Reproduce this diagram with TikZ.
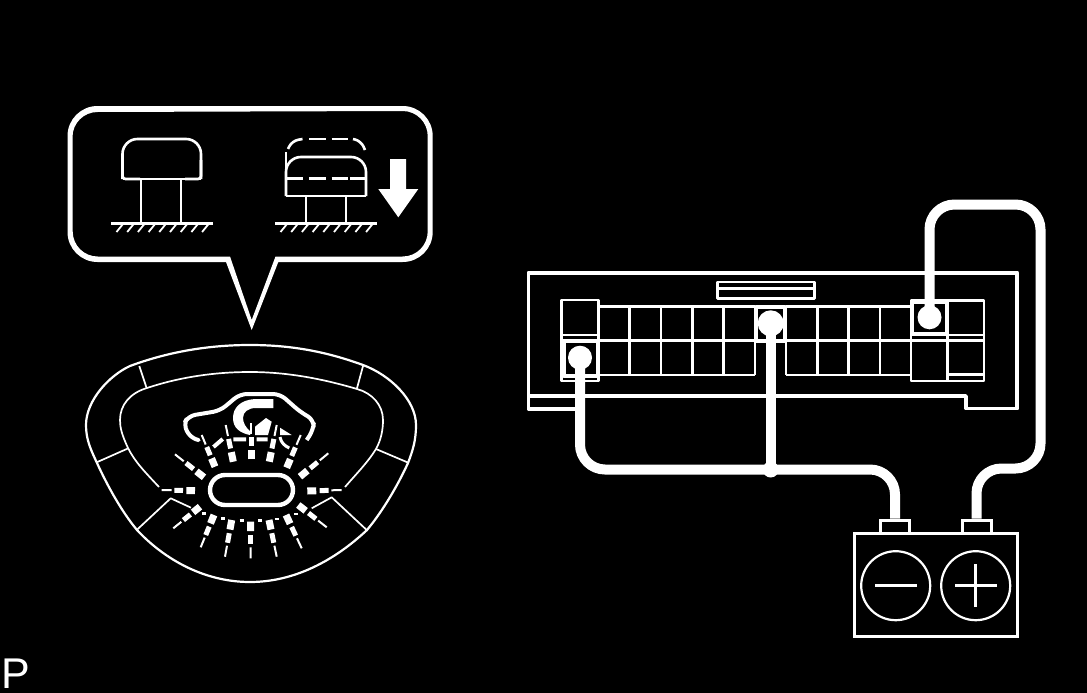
\documentclass[tikz,border=0pt]{standalone}
\usepackage{fontspec}
\setmainfont{Liberation Sans}
\usetikzlibrary{calc}
\tikzset{
  trace/.style={draw=white,line width=#1,line join=round},
  trace/.default=2.6pt,
  wire/.style={draw=white,line width=10pt,rounded corners=25pt},
  pin/.style={circle,fill=white,inner sep=0pt,minimum size=#1},
  pin/.default=24pt,
  lug/.style={draw=white,line width=3pt,inner sep=0pt,minimum width=29pt,minimum height=13pt},
  meter/.style={circle,draw=white,line width=2.2pt,inner sep=0pt,minimum size=69pt},
  case/.style={draw=white,line width=3.4pt,inner sep=0pt,minimum width=163pt,minimum height=103pt},
  hatch/.style={draw=white,line width=1.8pt},
  pagelabel/.style={text=white,inner sep=0pt,font=\fontsize{43}{43}\selectfont},
}
\begin{document}
\begin{tikzpicture}[x=1pt,y=-1pt]
  \useasboundingbox (0,0) rectangle (1087,693);
  \fill[black] (0,0) rectangle (1087,693);
  % balloon
  \fill[white,even odd rule]
    (226,262) -- (251.7,330) -- (278.3,262) -- (402.7,262) arc (90:0:30pt and -30pt) -- (432.7,136) arc (0:-90:30pt and -30pt)
    -- (97.5,106) arc (-90:-180:30pt and -30pt) -- (67.5,232) arc (180:90:30pt and -30pt) -- cycle
    (230,256.5) -- (251.7,320) -- (275.5,256.5) -- (402.7,256.5) arc (90:0:25pt and -25pt) -- (427.7,136) arc (0:-90:25pt and -25pt)
    -- (97.5,112) arc (-90:-180:25pt and -25pt) -- (72.7,231.5) arc (180:90:25pt and -25pt) -- cycle;
  % button up
  \draw[trace,rounded corners=15pt] (122.5,179) -- (122.5,139) -- (201,139) -- (201,179);
  \draw[trace,rounded corners=3pt] (140,179) -- (122.5,179) -- (122.5,160) (185,179) -- (201,179) -- (201,160);
  \draw[trace] (122.5,179) -- (201,179) (141,180) -- (141,223) (181,180) -- (181,223);
  % button pressed
  \draw[trace,rounded corners=15pt] (286,196) -- (286,157) -- (366,157) -- (366,196);
  \draw[trace] (286,196) -- (366,196) (306,197) -- (306,223) (346,197) -- (346,223);
  \draw[trace,rounded corners=6pt] (288,149) -- (292,141) -- (302.5,139);
  \draw[trace] (309,139) -- (325.5,139) (331.5,139) -- (347.5,139) (286,152) -- (286,178);
  \draw[trace,rounded corners=6pt] (353,139) -- (361,141) -- (365,150);
  \draw[trace] (366,168) -- (366,178);
  \foreach \xa/\xb in {286.5/302.5,309/325.5,331.5/347.5,350/365} \draw[trace] (\xa,178.7) -- (\xb,178.7);
  % ground
  \foreach \xg in {111,275} {
    \draw[trace] (\xg,223.5) -- (\xg+102,223.5);
    \foreach \i in {0,...,8} \draw[hatch] (\xg+5.5+\i*10.7,232) -- (\xg+12+\i*10.7,224);
  }
  \fill[white] (390,159) -- (406,159) -- (406,189) -- (418.3,189) -- (398.3,217.3) -- (378.3,189) -- (390,189) -- cycle;
  % steering pad
  \draw[trace=2.2pt] (250,345) .. controls (205,345) and (165,353) .. (130,366) .. controls (110,375) and (86,400) .. (86,425)
    .. controls (86,440) and (91,450) .. (97,463) .. controls (108,487) and (122,512) .. (137,530)
    .. controls (165,560) and (205,582) .. (250,582) .. controls (295,582) and (335,560) .. (367,530)
    .. controls (382,512) and (397,487) .. (408,463) .. controls (413,450) and (416,440) .. (416,425)
    .. controls (416,400) and (390,375) .. (363,365) .. controls (330,353) and (295,345) .. (250,345) -- cycle;
  \draw[trace=1.7pt] (159,487) .. controls (145,472) and (135,462) .. (128,448) .. controls (122,435) and (120,428) .. (120,420)
    .. controls (120,405) and (130,393) .. (147,388) .. controls (180,377) and (215,372) .. (250,372)
    .. controls (285,372) and (320,378) .. (357,389) .. controls (372,393) and (383,405) .. (383,420)
    .. controls (383,430) and (381,440) .. (376,449) .. controls (368,462) and (358,472) .. (345,487);
  \draw[trace=1.7pt] (139.3,366) -- (146.7,388.3) (363.3,365) -- (356.7,389.3)
    (96.7,462.3) -- (128.3,448.3) (408.3,462.7) -- (376,449)
    (136.7,530) -- (170.7,498.3) -- (191,507.7) (366.7,530) -- (331.7,497.3) -- (311.7,508.3);
  % horn mark
  \draw[trace=4pt,rounded corners=7pt] (198.3,440) -- (191.7,439) -- (183.3,425) -- (188.3,416) -- (220,410.7) -- (240,394) -- (280,394) -- (300,411.7) -- (314,420) -- (313.3,430) -- (306.7,440);
  \fill[white] (273.3,399) -- (255,399) .. controls (240,400) and (233,408) .. (233,418) .. controls (233,428) and (240,433) .. (250,435)
    -- (251,432) .. controls (246,428) and (243,423) .. (243,418) .. controls (243,412) and (248,408) .. (256,408) -- (273.3,408) -- cycle;
  \fill[white] (255,426.7) -- (266,418) -- (271.7,421.7) -- (268,435) -- (255,435) -- cycle (280,427.7) -- (291.7,435) -- (280,435) -- cycle;
  \draw[trace=3pt] (280,437) .. controls (281,443) and (285,446) .. (289.3,448);
  \draw[trace=4pt] (213.5,447) -- (222.7,439) (233.3,439.3) -- (246,439.3) (256.7,439.3) -- (267.7,439.3);
  % beams
  \draw[trace=4.4pt,rounded corners=15pt] (210,475) rectangle (293,505);
  \foreach \ax/\ay/\bx/\by in {215/466.7/201.7/435,233.3/461.7/225.7/425,251/459.3/251/422.7,269.3/461.7/276.7/425,
    286.7/467.7/300.7/435,300/476.7/328.3/453.3,307.3/491/341.7/490,298.3/505/326.7/527.3,286/515/301.7/548.3,
    269/520/276.7/556.7,250.7/521.7/250.7/558.3,231.7/520/225/556.7,214/515/200.7/547.3,200/506.7/173.3/528.3,
    195/490.7/161.7/490,204/477.3/175/454.3} {
    \draw[trace=7pt] (\ax,\ay) -- ($(\ax,\ay)!0.26!(\bx,\by)$);
    \draw[trace=5pt] ($(\ax,\ay)!0.36!(\bx,\by)$) -- ($(\ax,\ay)!0.62!(\bx,\by)$);
    \draw[trace=2pt] ($(\ax,\ay)!0.7!(\bx,\by)$) -- (\bx,\by);
  }
  \foreach \sx/\sy in {204/513.3,223.3/518.3,241.7/520.7,260/520.7,276.7/519,296/514} \draw[trace=2.5pt] (\sx-2,\sy) -- (\sx+2,\sy);
  % fuse box
  \draw[trace=3.8pt] (577,409) -- (528.5,409) -- (528.5,272.7) -- (1017.3,272.7) -- (1017.3,408.5) -- (966,408.5) -- (966,396) -- (528.5,396);
  \draw[trace] (717.3,282) rectangle (814.3,298.7) (717.3,288.3) -- (814.3,288.3);
  \draw[trace] (598.3,306.7) -- (755,306.7) (786,306.7) -- (911,306.7) (598.3,340.7) -- (984,340.7);
  \draw[trace] (598.3,375) -- (755,375) (786,375) -- (911,375) (947.7,374.5) -- (984,374.5);
  \foreach \xc in {598.3,629.3,661,692.3,723.3,755,786,817.3,848.3,880} \draw[trace] (\xc,306.7) -- (\xc,375);
  \draw[trace] (561.7,340) rectangle (598.3,381) (561.7,340) -- (561.7,300) -- (598.3,300) -- (598.3,340) (561.7,335) -- (598.3,335);
  \draw[trace] (911,300.7) rectangle (984,381) (947.7,300.7) -- (947.7,381) (947.7,335) -- (984,335);
  \draw[trace=4pt] (564,341) rectangle (598,376) (756,307) rectangle (785,341) (912,302) rectangle (947,334);
  % battery
  \node[case] (batt) at (935.8,585) {};
  \node[lug] (lugneg) at (895,526.5) {};
  \node[lug] (lugpos) at (976.5,526.5) {};
  \node[meter] (negpole) at (895.7,585.7) {};
  \node[meter] (pospole) at (975.7,585.7) {};
  \draw[trace] (875,585.7) -- (916.7,585.7) (955,585.7) -- (997.3,585.7) (975.7,564.3) -- (975.7,606.7);
  % harness
  \node[pin] (pinleft) at (580,357.7) {};
  \node[pin=26pt] (pinmid) at (770.7,323.3) {};
  \node[pin] (pinright) at (929.5,317.3) {};
  \node[pin=16pt] (splice) at (770.7,469.5) {};
  \coordinate (turntop) at (1040.5,204.5);
  \coordinate (turnlow) at (1040.5,468.5);
  \draw[wire] (pinleft.center) |- (splice.center) -| (lugneg.north);
  \draw[wire] (pinmid.center) -- (splice.center);
  \draw[wire] (pinright.center) |- (turntop) -- (turnlow) -| (lugpos.north);
  \node[pagelabel,anchor=base west] (pagemark) at (1.6,688) {P};
\end{tikzpicture}
\end{document}
